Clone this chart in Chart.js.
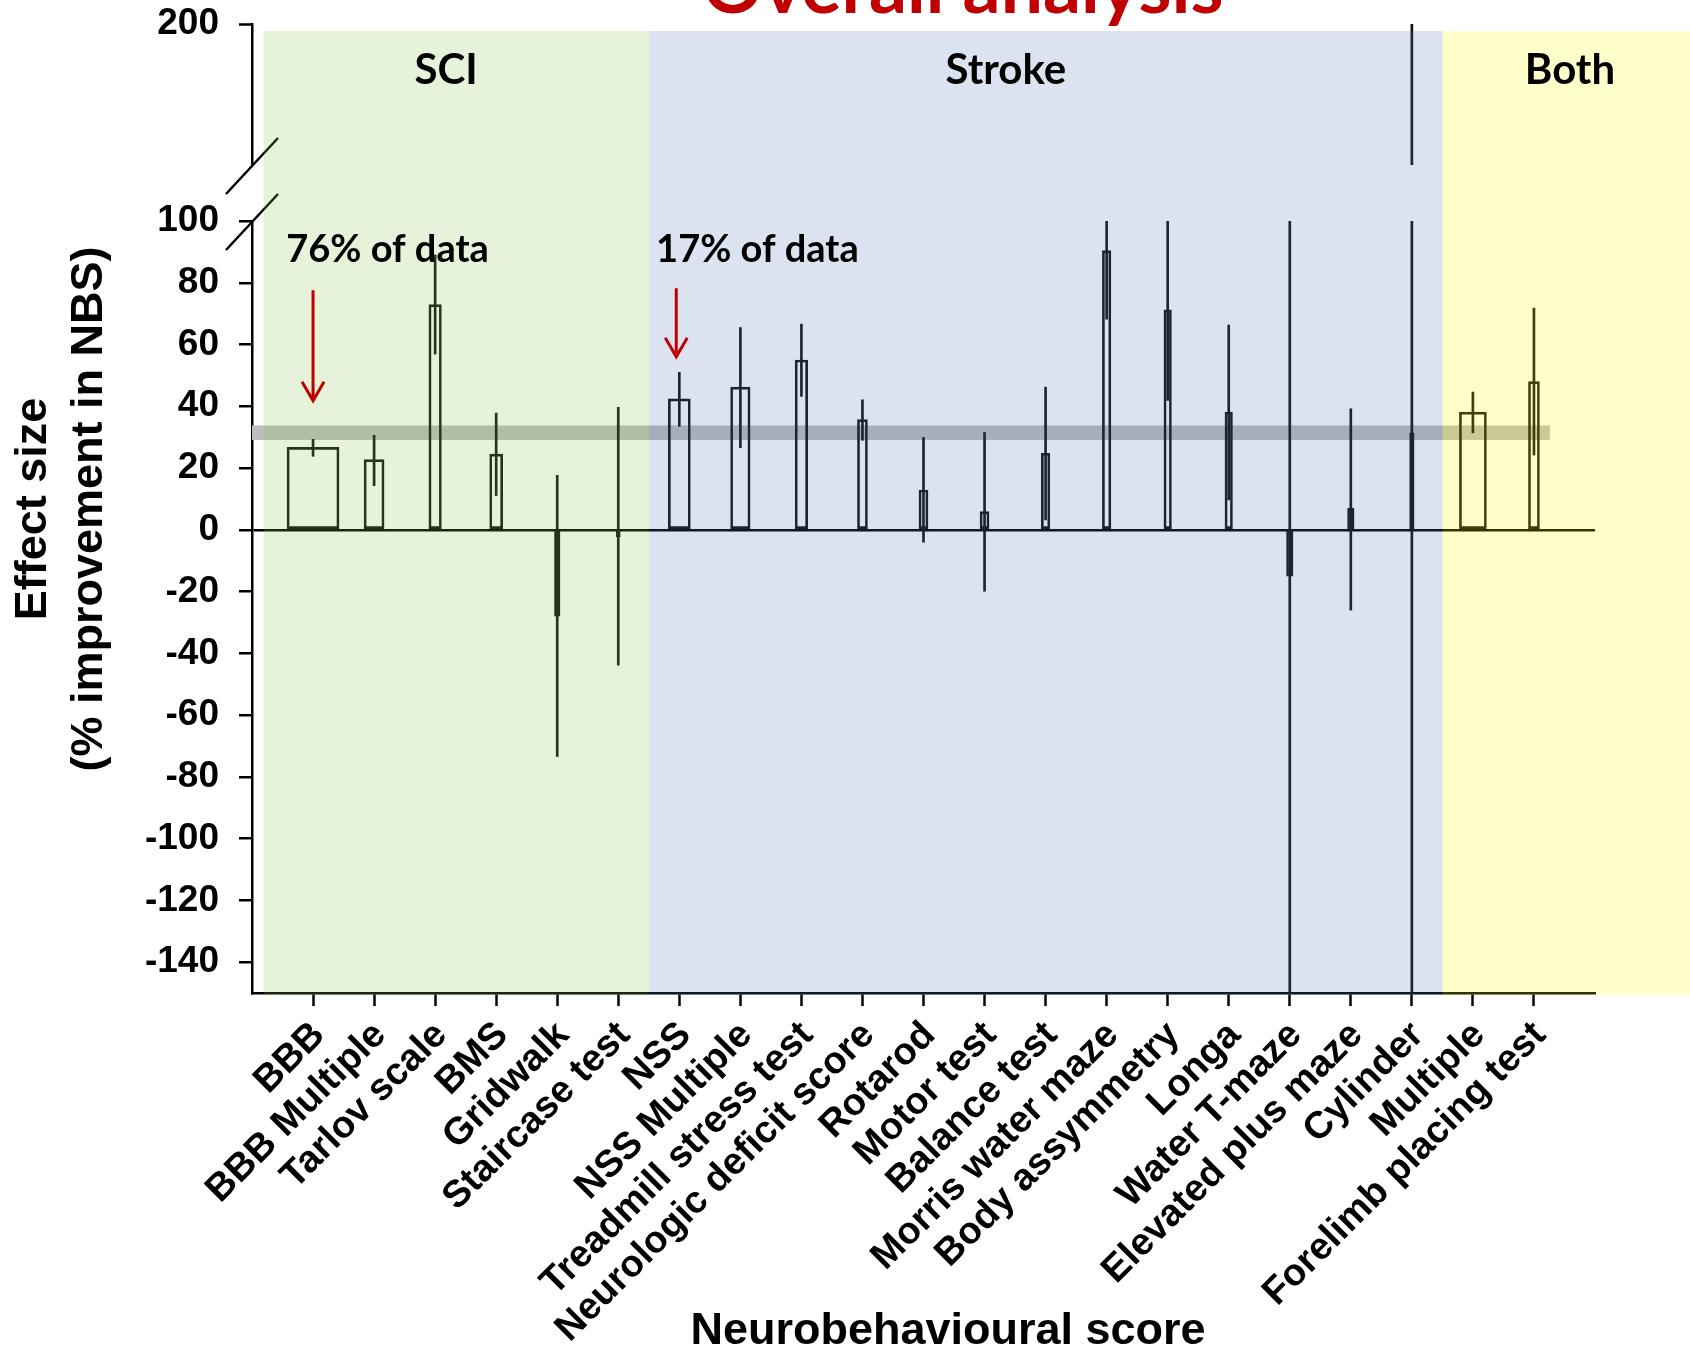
<!DOCTYPE html>
<html>
<head>
<meta charset="utf-8">
<title>Overall analysis</title>
<script src="https://cdn.jsdelivr.net/npm/chart.js@4.4.1/dist/chart.umd.min.js"></script>
<style>
  html, body { margin: 0; padding: 0; background: #fff; }
</style>
</head>
<body>
<canvas id="nbsChart" width="1690" height="1351"></canvas>
<script>
// Neurobehavioural scores, SCI first, then stroke, then both models
const categories = ['BBB', 'BBB Multiple', 'Tarlov scale', 'BMS', 'Gridwalk', 'Staircase test',
  'NSS', 'NSS Multiple', 'Treadmill stress test', 'Neurologic deficit score', 'Rotarod',
  'Motor test', 'Balance test', 'Morris water maze', 'Body assymmetry', 'Longa',
  'Water T-maze', 'Elevated plus maze', 'Cylinder', 'Multiple', 'Forelimb placing test'];

// effect size (% improvement in NBS) with lower / upper confidence limits
const effectSize = [26.7, 22.7, 72.9, 24.5, -28.0, -2.2, 42.4, 46.2, 55.0, 35.7, 12.9,
  5.9, 24.8, 90.4, 71.2, 38.1, -15.0, 7.0, 31.4, 38.1, 48.0];
const ciLow = [23.8, 14.3, 56.9, 11.1, -73.4, -43.8, 33.5, 26.6, 43.2, 29.0, -4.0,
  -19.9, 3.2, 68.2, 41.9, 9.7, -150, -26.0, -150, 31.4, 24.2];
const ciHigh = [29.3, 30.6, 89.0, 37.8, 17.6, 39.7, 51.0, 65.5, 66.6, 42.1, 29.9,
  31.5, 46.2, 100, 100, 66.3, 100, 39.2, 200, 44.6, 71.8];

// pooled estimate (grey band)
const pooled = [29.1, 33.8];

// bar width in px, wider bars carry more of the data
const barWidths = [52, 20, 12.5, 13, 5.5, 4, 22, 19.5, 12.5, 10, 9, 9, 8.5, 8.5,
  7.5, 7.5, 6.5, 6.5, 4.5, 27, 11];

// injury model groups: name and index of the first score in each
const groupNames = ['SCI', 'Stroke', 'Both'];
const groupStart = [0, 6, 19];

// y axis: broken into a lower part and a short upper part
const lowerRange = [-150, 100];
const upperRange = [100, 200];
const lowerTicks = [-140, -120, -100, -80, -60, -40, -20, 0, 20, 40, 60, 80, 100];
const upperTicks = [200];

const yTitle = ['Effect size', '(% improvement in NBS)'];
const xTitle = 'Neurobehavioural score';
const chartTitle = 'Overall analysis';

// empty slot on both ends of the category axis
const labels = ['', ...categories, ''];
const last = labels.length - 1;

Chart.defaults.font.family = "'Liberation Sans', Arial, sans-serif";
Chart.defaults.color = '#000';

const INK = '#111';
const tickFont = { size: 37, weight: 'bold' };

const barSets = categories.map((name, i) => ({
  type: 'bar',
  label: name,
  data: labels.map((_, j) => (j === i + 1 ? effectSize[i] : null)),
  yAxisID: 'y',
  grouped: false,
  barThickness: barWidths[i],
  backgroundColor: 'rgba(0,0,0,0)',
  borderColor: INK,
  borderWidth: 2,
  borderSkipped: false,
  order: 2
}));

// confidence intervals as thin floating bars, split over the two axis parts
const ciLowerPart = {
  type: 'bar',
  label: 'CI',
  data: labels.map((_, j) => {
    if (j === 0 || j === last) return null;
    const k = j - 1;
    return [Math.max(ciLow[k], lowerRange[0]), Math.min(ciHigh[k], lowerRange[1])];
  }),
  yAxisID: 'y',
  grouped: false,
  barThickness: 2,
  backgroundColor: INK,
  borderWidth: 0,
  order: 1
};

const ciUpperPart = {
  type: 'bar',
  label: 'CI upper',
  data: labels.map((_, j) => {
    if (j === 0 || j === last) return null;
    const hi = ciHigh[j - 1];
    return hi > upperRange[0] ? [upperRange[0], Math.min(hi, upperRange[1])] : null;
  }),
  yAxisID: 'yTop',
  grouped: false,
  barThickness: 2,
  backgroundColor: INK,
  borderWidth: 0,
  order: 1
};

function fixWidth(s) {
  s.width = 252;
  s.paddingTop = 0;
  s.paddingBottom = 0;
}

// shading, band, break marks and all free text
const decor = {
  id: 'decor',
  beforeDatasetsDraw(chart) {
    const { ctx, scales: { x, y } } = chart;
    const x0 = x.getPixelForValue(0);
    const x1 = x.getPixelForValue(21.26);
    const yA = y.getPixelForValue(pooled[1]);
    const yB = y.getPixelForValue(pooled[0]);
    ctx.save();
    ctx.fillStyle = '#bdbdbd';
    ctx.fillRect(x0, yA, x1 - x0, yB - yA);
    ctx.restore();
  },
  afterDatasetsDraw(chart) {
    const { ctx, chartArea, scales: { x, y, yTop } } = chart;
    const axisX = chartArea.left;
    ctx.save();

    // axis break marks
    ctx.strokeStyle = '#000';
    ctx.lineWidth = 2.5;
    [yTop.bottom + 1, y.top + 1].forEach(yc => {
      ctx.beginPath();
      ctx.moveTo(axisX - 26, yc + 28);
      ctx.lineTo(axisX + 26, yc - 28);
      ctx.stroke();
    });

    // translucent panels for each injury model
    const tints = ['rgba(130,195,70,0.2)', 'rgba(70,115,175,0.2)', 'rgba(255,255,0,0.2)'];
    const top = yTop.getPixelForValue(195);
    const bottom = chartArea.bottom + 1.5;
    const edges = [0.19, groupStart[1] + 0.5, groupStart[2] + 0.5];
    edges.forEach((e, g) => {
      const left = x.getPixelForValue(e);
      const right = g < edges.length - 1 ? x.getPixelForValue(edges[g + 1]) : chart.width;
      ctx.fillStyle = tints[g];
      ctx.fillRect(left, top, right - left, bottom - top);
    });
    ctx.restore();
  },
  afterDraw(chart) {
    const { ctx, scales: { x, y } } = chart;
    ctx.save();

    // title, cut by the top edge
    ctx.fillStyle = '#C00000';
    ctx.font = 'bold 75px Lato';
    ctx.textAlign = 'center';
    ctx.textBaseline = 'alphabetic';
    ctx.fillText(chartTitle, 963, 13);

    // group names
    ctx.fillStyle = '#000';
    ctx.font = 'bold 42px Lato';
    const namePos = [3.18, 12.35, 21.59];
    groupNames.forEach((n, g) => ctx.fillText(n, x.getPixelForValue(namePos[g]), 84));

    // share of the data set
    ctx.font = 'bold 38px Lato';
    ctx.textAlign = 'left';
    ctx.fillText('76% of data', x.getPixelForValue(0.56), y.getPixelForValue(86.8));
    ctx.fillText('17% of data', x.getPixelForValue(6.62), y.getPixelForValue(86.8));

    // red arrows
    ctx.strokeStyle = '#C00000';
    ctx.lineWidth = 3;
    [[1, 77.6, 41.8], [6.95, 78.2, 56.0]].forEach(([at, from, to]) => {
      const px = x.getPixelForValue(at);
      const y0 = y.getPixelForValue(from);
      const y1 = y.getPixelForValue(to);
      ctx.beginPath();
      ctx.moveTo(px, y0);
      ctx.lineTo(px, y1);
      ctx.moveTo(px - 11, y1 - 19);
      ctx.lineTo(px, y1);
      ctx.lineTo(px + 11, y1 - 19);
      ctx.stroke();
    });

    // axis titles
    ctx.fillStyle = '#000';
    ctx.font = "bold 45px 'Liberation Sans', Arial";
    ctx.textAlign = 'center';
    ctx.fillText(xTitle, 948, 1344);

    ctx.translate(0, 509);
    ctx.rotate(-Math.PI / 2);
    ctx.textBaseline = 'middle';
    ctx.fillText(yTitle[0], 0, 34);
    ctx.fillText(yTitle[1], 0, 90);
    ctx.restore();
  }
};

new Chart(document.getElementById('nbsChart'), {
  data: {
    labels: labels,
    datasets: [...barSets, ciLowerPart, ciUpperPart]
  },
  options: {
    responsive: false,
    animation: false,
    layout: { padding: { left: 0, right: 95, top: 24, bottom: 0 } },
    plugins: {
      legend: { display: false },
      tooltip: { enabled: false }
    },
    scales: {
      x: {
        type: 'category',
        offset: false,
        grid: {
          offset: false,
          drawOnChartArea: false,
          drawTicks: true,
          tickLength: 13,
          tickWidth: 2.5,
          tickColor: ctx => (ctx.index === 0 || ctx.index === last ? 'rgba(0,0,0,0)' : '#000')
        },
        border: { display: true, color: '#000', width: 2.5 },
        ticks: {
          autoSkip: false,
          minRotation: 45,
          maxRotation: 45,
          padding: 7,
          labelOffset: 6,
          font: { size: 38, weight: 'bold' }
        },
        afterFit: s => {
          s.height = 1351 - 993;
          s.paddingLeft = 0;
          s.paddingRight = 0;
        }
      },
      y: {
        type: 'linear',
        position: 'left',
        stack: 'effect',
        stackWeight: 772,
        min: lowerRange[0],
        max: lowerRange[1],
        afterBuildTicks: s => { s.ticks = lowerTicks.map(v => ({ value: v })); },
        grid: {
          drawOnChartArea: true,
          color: ctx => (ctx.tick && ctx.tick.value === 0 ? '#000' : 'rgba(0,0,0,0)'),
          lineWidth: 2.5,
          tickLength: 13,
          tickWidth: 2.5,
          tickColor: '#000'
        },
        border: { color: '#000', width: 2.5 },
        ticks: { autoSkip: false, padding: 20, font: tickFont },
        afterFit: fixWidth
      },
      yGap: {
        type: 'linear',
        position: 'left',
        stack: 'effect',
        stackWeight: 56,
        min: 0,
        max: 1,
        grid: { display: false },
        border: { display: false },
        ticks: { display: false },
        afterFit: fixWidth
      },
      yTop: {
        type: 'linear',
        position: 'left',
        stack: 'effect',
        stackWeight: 141,
        min: upperRange[0],
        max: upperRange[1],
        afterBuildTicks: s => { s.ticks = upperTicks.map(v => ({ value: v })); },
        grid: {
          drawOnChartArea: false,
          tickLength: 13,
          tickWidth: 2.5,
          tickColor: '#000'
        },
        border: { color: '#000', width: 2.5 },
        ticks: { autoSkip: false, padding: 20, font: tickFont },
        afterFit: fixWidth
      }
    }
  },
  plugins: [decor]
});
</script>
</body>
</html>
